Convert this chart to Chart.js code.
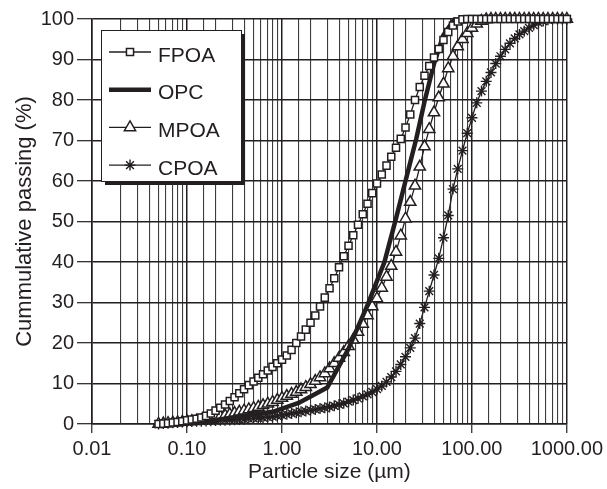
<!DOCTYPE html>
<html>
<head>
<meta charset="utf-8">
<script src="https://cdn.jsdelivr.net/npm/chart.js@4.4.1/dist/chart.umd.min.js"></script>
<style>
  html, body { margin: 0; padding: 0; background: #fff; }
  canvas { display: block; }
</style>
</head>
<body>
<canvas id="psdChart" width="607" height="489"></canvas>
<script>
// particle sizes (um) of the laser sizer, shared by FPOA, MPOA and CPOA
const particleSize = [
  0.0502, 0.0564, 0.0632, 0.0710, 0.0796, 0.0893, 0.1002, 0.1125, 0.1262, 0.1416,
  0.1589, 0.1783, 0.2000, 0.2244, 0.2518, 0.2825, 0.3170, 0.3557, 0.3991, 0.4477,
  0.5024, 0.5637, 0.6325, 0.7096, 0.7962, 0.8934, 1.002, 1.125, 1.262, 1.416,
  1.589, 1.783, 2.000, 2.244, 2.518, 2.825, 3.170, 3.557, 3.991, 4.477,
  5.024, 5.637, 6.325, 7.096, 7.962, 8.934, 10.02, 11.25, 12.62, 14.16,
  15.89, 17.83, 20.00, 22.44, 25.18, 28.25, 31.70, 35.57, 39.91, 44.77,
  50.24, 56.37, 63.25, 70.96, 79.62, 89.34, 100.2, 112.5, 126.2, 141.6,
  158.9, 178.3, 200.0, 224.4, 251.8, 282.5, 317.0, 355.7, 399.1, 447.7,
  502.4, 563.7, 632.5, 709.6, 796.2, 893.4, 1000
];
const fpoaPassing = [
  0, 0.1, 0.2, 0.35, 0.5, 0.7, 0.9, 1.1, 1.3, 1.6,
  2.0, 2.6, 3.3, 4.0, 4.8, 5.7, 6.6, 7.6, 8.6, 9.6,
  10.5, 11.4, 12.3, 13.2, 14.1, 15.0, 15.9, 16.9, 18.3, 20.0,
  21.6, 23.3, 25.0, 26.8, 29.0, 31.2, 33.5, 36.0, 38.7, 41.4,
  44.0, 46.6, 49.2, 51.8, 54.4, 57.0, 59.4, 61.6, 63.8, 66.0,
  68.2, 70.4, 73.2, 76.4, 80.0, 83.2, 86.0, 88.4, 90.5, 92.6,
  94.8, 96.8, 98.4, 99.4, 99.9, 100, 100, 100, 100, 100,
  100, 100, 100, 100, 100, 100, 100, 100, 100, 100,
  100, 100, 100, 100, 100, 100, 100
];
const mpoaPassing = [
  0, 0.1, 0.2, 0.3, 0.4, 0.5, 0.6, 0.7, 0.8, 0.9,
  1.0, 1.2, 1.5, 1.8, 2.1, 2.4, 2.7, 3.0, 3.3, 3.6,
  3.9, 4.2, 4.6, 5.0, 5.4, 5.9, 6.4, 6.9, 7.4, 7.9,
  8.5, 9.1, 9.8, 10.6, 11.5, 12.5, 13.7, 15.0, 16.3, 17.7,
  19.2, 20.8, 22.7, 24.7, 26.8, 29.0, 31.0, 33.6, 36.3, 39.0,
  42.5, 46.5, 50.7, 54.8, 58.8, 63.5, 68.5, 72.8, 76.9, 80.6,
  84.0, 87.8, 90.8, 93.2, 95.0, 96.5, 97.8, 98.8, 99.5, 99.9,
  100, 100, 100, 100, 100, 100, 100, 100, 100, 100,
  100, 100, 100, 100, 100, 100, 100
];
const cpoaPassing = [
  0, 0.1, 0.2, 0.3, 0.4, 0.5, 0.55, 0.6, 0.65, 0.7,
  0.75, 0.8, 0.85, 0.9, 0.95, 1.0, 1.05, 1.1, 1.2, 1.3,
  1.4, 1.5, 1.6, 1.7, 1.8, 2.0, 2.2, 2.4, 2.6, 2.8,
  3.0, 3.2, 3.4, 3.6, 3.8, 4.0, 4.2, 4.5, 4.8, 5.1,
  5.5, 5.9, 6.3, 6.8, 7.3, 7.9, 8.6, 9.4, 10.4, 11.6,
  13.0, 14.7, 16.6, 18.8, 21.2, 24.8, 28.8, 32.8, 36.8, 40.9,
  46.0, 51.5, 58.0, 63.0, 67.5, 71.8, 75.6, 79.3, 82.2, 84.6,
  86.8, 89.0, 90.8, 92.5, 94.0, 95.2, 96.2, 97.0, 97.8, 98.5,
  99.1, 99.5, 99.8, 100, 100, 100, 100
];
// OPC comes as a coarser curve
const opcSize = [0.05, 0.1, 0.2, 0.4, 0.8, 1.5, 3, 5, 8, 12, 16, 20, 26, 32, 40, 50, 65, 100, 1000];
const opcPassing = [0, 0.4, 1.0, 2.0, 3.0, 5.2, 9.0, 18.5, 29.5, 40, 51, 60, 70.5, 80, 89, 96, 99.8, 100, 100];

const seriesNames = ['FPOA', 'OPC', 'MPOA', 'CPOA'];
const xTickLabels = ['0.01', '0.10', '1.00', '10.00', '100.00', '1000.00'];

const ink = '#231f20';
const fontFamily = '"Liberation Sans", Arial, Helvetica, sans-serif';

function toPoints(xs, ys) {
  return xs.map((x, i) => ({ x: x, y: ys[i] }));
}

function isDecade(v) {
  const l = Math.log10(v);
  return Math.abs(l - Math.round(l)) < 1e-6;
}

// boxed legend with a drop shadow, drawn inside the plot
const boxLegend = {
  id: 'boxLegend',
  afterDraw(chart) {
    const ctx = chart.ctx;
    const area = chart.chartArea;
    const x = area.left + 9;
    const y = area.top + 11;
    const w = 140;
    const h = 151;
    ctx.save();
    ctx.fillStyle = ink;
    ctx.fillRect(x + 4, y + 4, w, h);
    ctx.fillStyle = '#fff';
    ctx.fillRect(x, y, w, h);
    ctx.strokeStyle = ink;
    ctx.lineWidth = 1;
    ctx.strokeRect(x + 0.5, y + 0.5, w, h);

    chart.data.datasets.forEach((ds, i) => {
      const rowY = y + 22 + i * 37.7;
      const x0 = x + 8;
      const x1 = x + 50;
      ctx.strokeStyle = ds.borderColor;
      ctx.lineWidth = ds.borderWidth;
      ctx.beginPath();
      ctx.moveTo(x0, rowY);
      ctx.lineTo(x1, rowY);
      ctx.stroke();
      if (ds.pointRadius > 0) {
        ctx.fillStyle = ds.pointBackgroundColor;
        ctx.strokeStyle = ds.pointBorderColor;
        ctx.lineWidth = ds.pointBorderWidth;
        Chart.helpers.drawPoint(ctx, {
          pointStyle: ds.pointStyle,
          radius: ds.pointRadius,
          borderWidth: ds.pointBorderWidth,
          rotation: 0
        }, (x0 + x1) / 2, rowY);
      }
      ctx.fillStyle = ink;
      ctx.font = '21px ' + fontFamily;
      ctx.textAlign = 'left';
      ctx.textBaseline = 'middle';
      ctx.fillText(ds.label, x + 57, rowY + 4);
    });
    ctx.restore();
  }
};

Chart.defaults.font.family = fontFamily;
Chart.defaults.color = ink;

new Chart(document.getElementById('psdChart'), {
  type: 'line',
  data: {
    datasets: [
      {
        label: seriesNames[0],
        data: toPoints(particleSize, fpoaPassing),
        borderColor: ink,
        borderWidth: 1.3,
        pointStyle: 'rect',
        pointRadius: 5,
        pointBackgroundColor: '#fff',
        pointBorderColor: ink,
        pointBorderWidth: 1.5
      },
      {
        label: seriesNames[1],
        data: toPoints(opcSize, opcPassing),
        borderColor: ink,
        borderWidth: 4.5,
        pointRadius: 0
      },
      {
        label: seriesNames[2],
        data: toPoints(particleSize, mpoaPassing),
        borderColor: ink,
        borderWidth: 1.3,
        pointStyle: 'triangle',
        pointRadius: 6.5,
        pointBackgroundColor: '#fff',
        pointBorderColor: ink,
        pointBorderWidth: 1.5
      },
      {
        label: seriesNames[3],
        data: toPoints(particleSize, cpoaPassing),
        borderColor: ink,
        borderWidth: 1.3,
        pointStyle: 'star',
        pointRadius: 5.5,
        pointBackgroundColor: ink,
        pointBorderColor: ink,
        pointBorderWidth: 1.4
      }
    ]
  },
  options: {
    animation: false,
    responsive: false,
    devicePixelRatio: 1,
    clip: false,
    elements: { line: { tension: 0 } },
    layout: { padding: { left: 0, top: 19, right: 37, bottom: 0 } },
    plugins: {
      legend: { display: false },
      tooltip: { enabled: false }
    },
    scales: {
      x: {
        type: 'logarithmic',
        min: 0.01,
        max: 1000,
        afterFit: (scale) => { scale.height = 65; },
        border: { color: ink, width: 1.5 },
        grid: {
          color: (c) => (c.tick && isDecade(c.tick.value) ? ink : '#3c3c3c'),
          lineWidth: (c) => (c.tick && isDecade(c.tick.value) ? 1.5 : 1.1),
          tickLength: 9,
          tickColor: (c) => (c.tick && isDecade(c.tick.value) ? ink : 'rgba(0,0,0,0)'),
          tickWidth: 1.2
        },
        ticks: {
          autoSkip: false,
          maxRotation: 0,
          minRotation: 0,
          padding: 4,
          font: { size: 20 },
          callback: (v) => (isDecade(v) ? xTickLabels[Math.round(Math.log10(v)) + 2] : '')
        },
        title: {
          display: true,
          text: 'Particle size (µm)',
          font: { size: 21 },
          padding: { top: 0, bottom: 4 }
        }
      },
      y: {
        min: 0,
        max: 100,
        afterFit: (scale) => { scale.width = 92; },
        border: { color: ink, width: 1.5 },
        grid: { color: ink, lineWidth: 1.4, tickLength: 15, tickWidth: 1.2 },
        ticks: { stepSize: 10, padding: 3, font: { size: 20 } },
        title: {
          display: true,
          text: 'Cummulative passing (%)',
          font: { size: 22 },
          padding: { top: 12, bottom: 0 }
        }
      }
    }
  },
  plugins: [boxLegend]
});
</script>
</body>
</html>
